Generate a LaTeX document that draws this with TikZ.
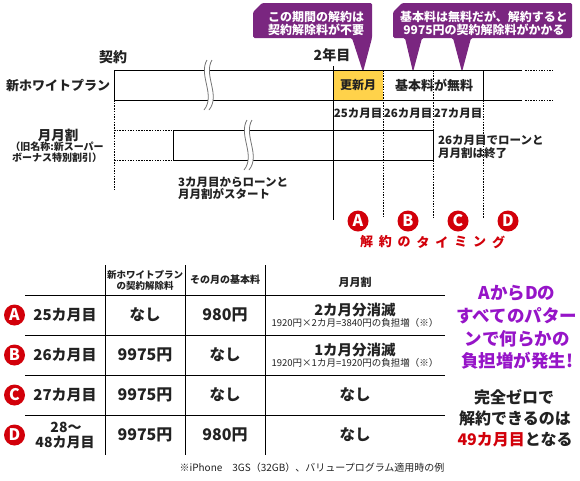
\documentclass[tikz,border=0pt]{standalone}
\usepackage{fontspec}
\setmainfont{Noto Sans CJK JP}
\definecolor{cpurple}{RGB}{122,38,128}
\definecolor{vpurple}{RGB}{150,20,200}
\definecolor{cred}{RGB}{210,0,10}
\definecolor{cyellow}{RGB}{255,210,74}
\definecolor{ctext}{RGB}{34,34,34}
\tikzset{
  fnt/.style={font=\bfseries\fontsize{#1}{#1}\selectfont},
  fntr/.style={font=\fontsize{#1}{#1}\selectfont},
  solidln/.style={draw=black, line width=0.9pt},
  dotln/.style={draw=black, line width=0.8pt, dash pattern=on 1.5pt off 1.2pt},
  tabln/.style={draw=black, line width=0.9pt},
  circlab/.style={circle, fill=cred, text=white, minimum size=21pt, inner sep=0pt, font=\bfseries\fontsize{16}{16}\selectfont},
  callouttext/.style={text=white, align=center, font=\bfseries\fontsize{12}{13.5}\selectfont},
  breakline/.style={draw=black!55, line width=0.8pt}
}
\begin{document}
\begin{tikzpicture}[x=1pt,y=-1pt, every node/.style={inner sep=0pt, text=ctext}]
\useasboundingbox (0,0) rectangle (580,480);
\fill[white] (0,0) rectangle (580,480);

% ---- callouts
\fill[cpurple, rounded corners=1.5pt] (253,12) -- (262,3) -- (372,3) -- (372,38) -- (363,72) -- (352,38) -- (253,38) -- cycle;
\node[callouttext] (c1) at (316,23.5) {この期間の解約は\\契約解除料が不要};
\fill[cpurple, rounded corners=1.5pt] (393,12) -- (402,3) -- (572,3) -- (572,38) -- (471,38) -- (462,72) -- (453,38) -- (422,38) -- (413,72) -- (405,38) -- (393,38) -- cycle;
\node[callouttext] (c2) at (484,23.5) {基本料は無料だが、解約すると\\9975円の契約解除料がかかる};

% ---- top labels
\node[fnt=14] (kei) at (113,57) {契約};
\node[fnt=14] (y2) at (332,55) {2年目};
\node[fnt=13] (plan) at (58,85) {新ホワイトプラン};

% ---- timeline lines
\fill[cyellow] (333,70) rectangle (383,100);
\draw[solidln] (114,70) -- (522,70);
\draw[solidln] (114,100) -- (522,100);
\draw[dotln] (525,70) -- (553,70);
\draw[dotln] (525,100) -- (553,100);
\draw[solidln] (114,70) -- (114,100);
\draw[dotln] (114,100) -- (114,190);
\draw[solidln] (333,66) -- (333,220);
\draw[dotln] (383,70) -- (383,218);
\draw[dotln] (433,70) -- (433,130);
\draw[dotln] (433,160) -- (433,218);
\draw[solidln] (483,70) -- (483,100);
\draw[dotln] (483,100) -- (483,218);
\draw[solidln] (173,130) rectangle (433,160);
\draw[dotln] (114,130) -- (173,130);
\draw[dotln] (114,160) -- (173,160);

% ---- break marks
\fill[white] (207,60) .. controls (198,75) and (216,95) .. (204,110) -- (209,110) .. controls (221,95) and (203,75) .. (212,60) -- cycle;
\draw[breakline] (207,60) .. controls (198,75) and (216,95) .. (204,110);
\draw[breakline] (212,60) .. controls (203,75) and (221,95) .. (209,110);
\fill[white] (247,120) .. controls (238,135) and (256,155) .. (244,170) -- (249,170) .. controls (261,155) and (243,135) .. (252,120) -- cycle;
\draw[breakline] (247,120) .. controls (238,135) and (256,155) .. (244,170);
\draw[breakline] (252,120) .. controls (243,135) and (261,155) .. (249,170);

% ---- timeline texts
\node[fnt=12] (kous) at (358,85) {更新月};
\node[fnt=13] (kihon) at (434,85) {基本料が無料};
\node[fnt=11.5] (m25) at (358,113) {25カ月目};
\node[fnt=11.5] (m26) at (408,113) {26カ月目};
\node[fnt=11.5] (m27) at (458,113) {27カ月目};
\node[fnt=13.5] (gw) at (58,135) {月月割};
\node[fnt=10, align=center, font=\bfseries\fontsize{10}{10.5}\selectfont] (gwsub) at (57,152) {（旧名称:新スーパー\\ボーナス特別割引）};
\node[align=left, anchor=west, font=\bfseries\fontsize{11.5}{12}\selectfont] (start) at (178,188) {3カ月目からローンと\\月月割がスタート};
\node[align=left, anchor=west, font=\bfseries\fontsize{11.5}{13}\selectfont] (end) at (438,146.5) {26カ月目でローンと\\月月割は終了};

% ---- timing circles
\node[circlab] (tA) at (358,221) {A};
\node[circlab] (tB) at (408,221) {B};
\node[circlab] (tC) at (458,221) {C};
\node[circlab] (tD) at (508,221) {D};
\foreach \ch [count=\i from 0] in {解,約,の,タ,イ,ミ,ン,グ}
  \node[fnt=13, text=cred] (tm\i) at (366.5+18.86*\i,242) {\ch};

% ---- table lines
\foreach \xx in {105,185,265} \draw[tabln] (\xx,265) -- (\xx,455);
\foreach \yy in {295,335,375,415} \draw[tabln] (25,\yy) -- (445,\yy);

% ---- table header
\node[align=center, font=\bfseries\fontsize{9.5}{11}\selectfont] (h1) at (145,280.5) {新ホワイトプラン\\の契約解除料};
\node[fnt=10] (h2) at (225,280) {その月の基本料};
\node[fnt=11] (h3) at (355,282) {月月割};

% ---- rows
\node[circlab] (rA) at (14.5,315) {A};
\node[circlab] (rB) at (14.5,355) {B};
\node[circlab] (rC) at (14.5,395) {C};
\node[circlab] (rD) at (14.5,435) {D};

\node[fnt=15] (a1) at (65,315) {25カ月目};
\node[fnt=15.5] (a2) at (145,315) {なし};
\node[fnt=16] (a3) at (225,315) {980円};
\node[fnt=14.5] (a4) at (355,310) {2カ月分消滅};
\node[fntr=9.5] (a5) at (355,323) {1920円×2カ月=3840円の負担増（※）};

\node[fnt=15] (b1) at (65,355) {26カ月目};
\node[fnt=16] (b2) at (145,355) {9975円};
\node[fnt=15.5] (b3) at (225,355) {なし};
\node[fnt=14.5] (b4) at (355,350) {1カ月分消滅};
\node[fntr=9.5] (b5) at (355,363) {1920円×1カ月=1920円の負担増（※）};

\node[fnt=15] (c1a) at (65,395) {27カ月目};
\node[fnt=16] (c2a) at (145,395) {9975円};
\node[fnt=15.5] (c3a) at (225,395) {なし};
\node[fnt=15.5] (c4a) at (355,395) {なし};

\node[fnt=14] (d1a) at (66,427) {28～};
\node[fnt=14] (d1b) at (65,442) {48カ月目};
\node[fnt=16] (d2) at (145,435) {9975円};
\node[fnt=16] (d3) at (225,435) {980円};
\node[fnt=15.5] (d4) at (355,435) {なし};

% ---- right texts
\node[fnt=17.5, text=vpurple] (p1) at (517,293) {AからDの};
\node[fnt=17.5, text=vpurple] (p2) at (517,316) {すべてのパター};
\node[fnt=17.5, text=vpurple] (p3) at (517,339) {ンで何らかの};
\node[fnt=17.5, text=vpurple] (p4) at (517,361) {負担増が発生!};
\node[fnt=16] (k1) at (514,397) {完全ゼロで};
\node[fnt=16] (k2) at (515,418) {解約できるのは};
\node[fnt=16] (k3) at (515,440) {\textcolor{cred}{49カ月目}となる};

% ---- footnote
\node[fntr=10] (foot) at (312,468) {※iPhone　3GS（32GB）、バリュープログラム適用時の例};
\end{tikzpicture}
\end{document}
